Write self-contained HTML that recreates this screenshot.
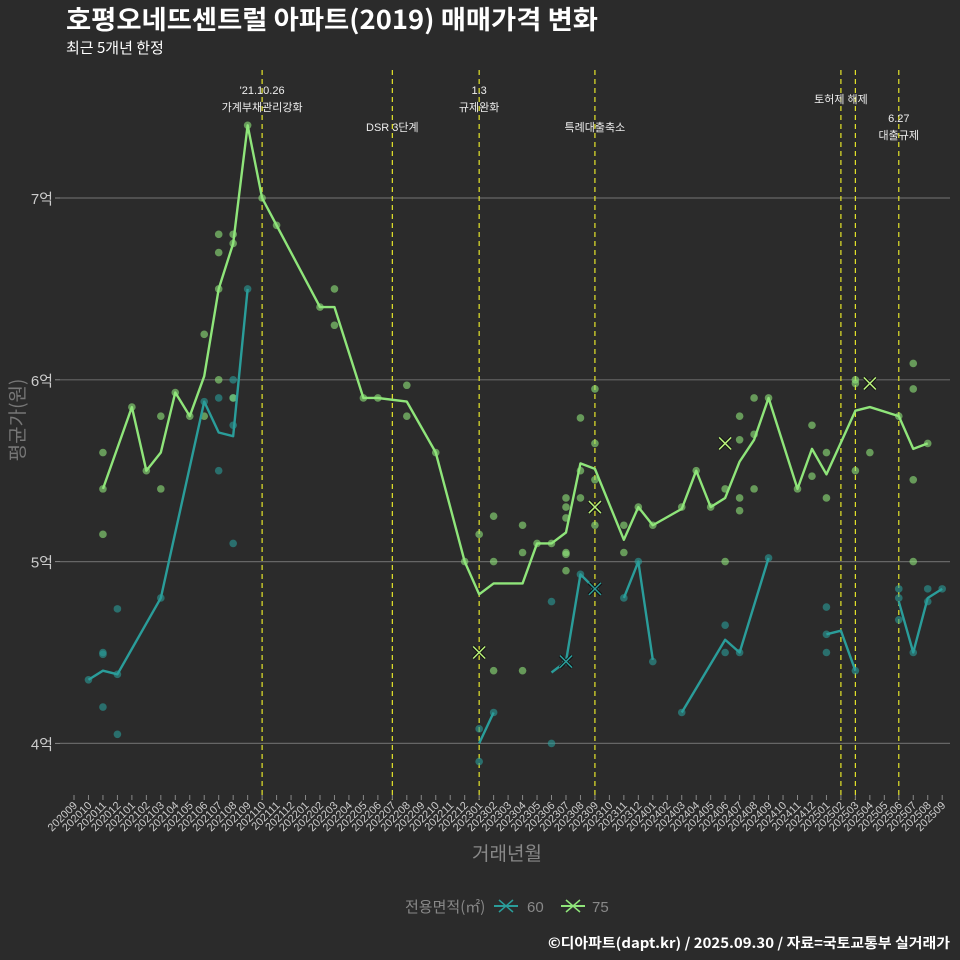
<!DOCTYPE html>
<html><head><meta charset="utf-8">
<style>
html,body{margin:0;padding:0;background:#2b2b2b;}
svg{display:block;font-family:"Liberation Sans","Noto Sans CJK KR",sans-serif;}
.cjk{font-family:"Noto Sans CJK KR",sans-serif;}
</style></head>
<body>
<svg id="chart" width="960" height="960" viewBox="0 0 960 960">
<rect x="0" y="0" width="960" height="960" fill="#2b2b2b"/>
<text class="cjk" x="66" y="29" font-size="26" font-weight="bold" fill="#ffffff" textLength="532" lengthAdjust="spacingAndGlyphs">호평오네뜨센트럴 아파트(2019) 매매가격 변화</text>
<text class="cjk" x="66" y="53" font-size="15" fill="#ffffff">최근 5개년 한정</text>
<g id="grid"></g>
<g id="events"></g>
<g id="dots"></g>
<g id="lines"></g>
<g id="xaxis"></g>
<text class="cjk" x="507" y="860" font-size="19" fill="#888" text-anchor="middle">거래년월</text>
<text class="cjk" transform="translate(24,420) rotate(-90)" font-size="19" fill="#777" text-anchor="middle">평균가(원)</text>
<g>
<text class="cjk" x="405" y="912" font-size="15" fill="#888">전용면적(㎡)</text>
<g>
<line x1="494" y1="906" x2="518" y2="906" stroke="#2a9d9a" stroke-width="2"/>
<path d="M499 900 L513 912 M513 900 L499 912" stroke="#2a9d9a" stroke-width="1.5"/>
<text x="527" y="912" font-size="15" fill="#888">60</text>
</g>
<g>
<line x1="561" y1="906" x2="585" y2="906" stroke="#8fe57a" stroke-width="2"/>
<path d="M566 900 L580 912 M580 900 L566 912" stroke="#8fe57a" stroke-width="1.5"/>
<text x="592" y="912" font-size="15" fill="#888">75</text>
</g>
</g>
<text class="cjk" x="548" y="948" font-size="14" font-weight="bold" fill="#ffffff" textLength="402" lengthAdjust="spacingAndGlyphs">©디아파트(dapt.kr) / 2025.09.30 / 자료=국토교통부 실거래가</text>
</svg>
<script>
const months = [];
for (let y = 2020, m = 9; months.length < 61; m++) { if (m > 12) { m = 1; y++; } months.push(String(y) + String(m).padStart(2, '0')); }
const yTicks = [4, 5, 6, 7];
const yTickLabels = ['4억', '5억', '6억', '7억'];
const line75 = [[2,5.4],[4,5.85],[5,5.5],[6,5.6],[7,5.93],[8,5.8],[9,6.02],[10,6.5],[11,6.75],[12,7.4],[13,7.0],[14,6.85],[17,6.4],[18,6.4],[20,5.9],[21,5.9],[23,5.88],[25,5.6],[27,5.0],[28,4.82],[29,4.88],[31,4.88],[32,5.1],[33,5.1],[34,5.16],[35,5.54],[36,5.51],[38,5.12],[39,5.3],[40,5.2],[42,5.29],[43,5.5],[44,5.3],[45,5.35],[46,5.55],[47,5.67],[48,5.9],[50,5.4],[51,5.62],[52,5.48],[54,5.83],[55,5.85],[57,5.8],[58,5.62],[59,5.65]];
const line60 = [[1,4.35],[2,4.4],[3,4.38],[6,4.8],[9,5.88],[10,5.71],[11,5.69],[12,6.5],null,[28,4.0],[29,4.17],null,[33,4.39],[34,4.45],[35,4.93],[36,4.85],null,[38,4.8],[39,5.0],[40,4.46],null,[42,4.17],[45,4.57],[46,4.5],[48,5.02],null,[52,4.6],[53,4.62],[54,4.4],null,[57,4.78],[58,4.5],[59,4.8],[60,4.85]];
const dots75 = [[2,5.6],[2,5.15],[2,5.4],[4,5.85],[5,5.5],[6,5.8],[6,5.4],[7,5.93],[8,5.8],[9,6.25],[9,5.8],[10,6.8],[10,6.7],[10,6.0],[10,6.5],[11,6.8],[11,6.75],[11,5.9],[12,7.4],[13,7.0],[14,6.85],[17,6.4],[18,6.5],[18,6.3],[20,5.9],[21,5.9],[23,5.97],[23,5.8],[25,5.6],[27,5.0],[28,5.15],[29,5.25],[29,5.0],[29,4.4],[31,5.2],[31,5.05],[31,4.4],[32,5.1],[33,5.1],[34,5.35],[34,5.3],[34,5.24],[34,5.05],[34,5.04],[34,4.95],[35,5.79],[35,5.5],[35,5.35],[36,5.95],[36,5.65],[36,5.45],[36,5.2],[38,5.2],[38,5.05],[39,5.3],[40,5.2],[42,5.3],[43,5.5],[44,5.3],[45,5.4],[45,5.0],[46,5.8],[46,5.67],[46,5.35],[46,5.28],[47,5.9],[47,5.7],[47,5.4],[48,5.9],[50,5.4],[51,5.75],[51,5.47],[52,5.6],[52,5.35],[54,6.0],[54,5.98],[54,5.5],[55,5.6],[57,5.8],[58,6.09],[58,5.95],[58,5.45],[58,5.0],[59,5.65]];
const dots60 = [[1,4.35],[2,4.5],[2,4.49],[2,4.2],[3,4.74],[3,4.38],[3,4.05],[6,4.8],[9,5.88],[10,5.9],[10,5.5],[11,6.0],[11,5.9],[11,5.75],[11,5.1],[12,6.5],[28,4.08],[28,3.9],[29,4.17],[33,4.78],[33,4.0],[34,4.45],[35,4.93],[36,4.85],[38,4.8],[39,5.0],[40,4.45],[42,4.17],[45,4.65],[45,4.5],[46,4.5],[48,5.02],[52,4.75],[52,4.6],[52,4.5],[54,4.4],[57,4.85],[57,4.8],[57,4.68],[58,4.5],[59,4.85],[59,4.78],[60,4.85]];
const cross75 = [[28,4.5],[36,5.3],[45,5.65],[55,5.98]];
const cross60 = [[34,4.45],[36,4.85]];
const eventIdx = [13, 22, 28, 36, 53, 54, 57];
const eventLabels = [
  {i:13, lines:["'21.10.26","가계부채관리강화"], y:94},
  {i:22, lines:["DSR 3단계"], y:131},
  {i:28, lines:["1.3","규제완화"], y:94},
  {i:36, lines:["특례대출축소"], y:131},
  {i:53, lines:["토허제 해제"], y:103},
  {i:57, lines:["6.27","대출규제"], y:122}
];
const NS = 'http://www.w3.org/2000/svg';
const X = i => 74 + 14.47 * i;
const Y = v => 198 + (7 - v) * 181.8;
function mk(tag, attrs, parent) { const e = document.createElementNS(NS, tag); for (const k in attrs) e.setAttribute(k, attrs[k]); parent.appendChild(e); return e; }
const grid = document.getElementById('grid');
yTicks.forEach((t, k) => {
  const l = mk('line', {x1:60, x2:950, y1:Y(t), y2:Y(t), stroke:'#666', 'stroke-width':1.2}, grid);
  
  
  const tk = mk('line', {x1:55, x2:60, y1:Y(t), y2:Y(t), stroke:'#888'}, grid);
  
  
  const tx = mk('text', {x:53, y:Y(t)+6, 'font-size':15, fill:'#ccc', 'text-anchor':'end'}, grid);
  tx.textContent = yTickLabels[k];
  
  
});
const ev = document.getElementById('events');
eventIdx.forEach(i => {
  const l = mk('line', {x1:X(i), x2:X(i), y1:70, y2:800, stroke:'#e5e52a', 'stroke-width':1.2, 'stroke-dasharray':'5,4'}, ev);
  
  
});
eventLabels.forEach(e => {
  e.lines.forEach((s, k) => {
    const t = mk('text', {x:X(e.i), y:e.y + k*17, 'font-size':11, fill:'#eee', 'text-anchor':'middle'}, ev);
    t.textContent = s;
    
    
  });
});
const dg = document.getElementById('dots');
function drawDots(arr, col, name) {
  arr.forEach(d => {
    const c = mk('circle', {cx:X(d[0]), cy:Y(d[1]), r:3.8, fill:col, 'fill-opacity':0.6}, dg);
    
    
  });
}
drawDots(dots60, '#2a9d9a', 'dot-60');
drawDots(dots75, '#8fe57a', 'dot-75');
const lg = document.getElementById('lines');
function drawLine(arr, col, name) {
  let segs = [], cur = [];
  arr.forEach(p => { if (p === null) { if (cur.length) segs.push(cur); cur = []; } else cur.push(p); });
  if (cur.length) segs.push(cur);
  segs.forEach(s => {
    const pl = mk('polyline', {points:s.map(p => X(p[0]) + ',' + Y(p[1])).join(' '), fill:'none', stroke:col, 'stroke-width':2.4, 'stroke-linejoin':'round'}, lg);
    
    
  });
}
drawLine(line60, '#2a9d9a', 'line-60');
drawLine(line75, '#8fe57a', 'line-75');
function drawCross(arr, col, name) {
  arr.forEach(d => {
    const x = X(d[0]), y = Y(d[1]);
    const b = mk('path', {d:`M${x-6} ${y-6}L${x+6} ${y+6}M${x+6} ${y-6}L${x-6} ${y+6}`, stroke:'#111', 'stroke-width':3.5}, lg);
    
    
    const p = mk('path', {d:`M${x-6} ${y-6}L${x+6} ${y+6}M${x+6} ${y-6}L${x-6} ${y+6}`, stroke:col, 'stroke-width':1.5}, lg);
    
    
  });
}
drawCross(cross60, '#2a9d9a', 'cross-60');
drawCross(cross75, '#b8f07a', 'cross-75');
const xa = document.getElementById('xaxis');
months.forEach((m, i) => {
  const tk = mk('line', {x1:X(i), x2:X(i), y1:795, y2:800, stroke:'#888'}, xa);
  
  
  const t = mk('text', {transform:`translate(${X(i)+4},${806}) rotate(-45)`, 'font-size':11, fill:'#ccc', 'text-anchor':'end'}, xa);
  t.textContent = m;
  
  
});
</script>
</body></html>
